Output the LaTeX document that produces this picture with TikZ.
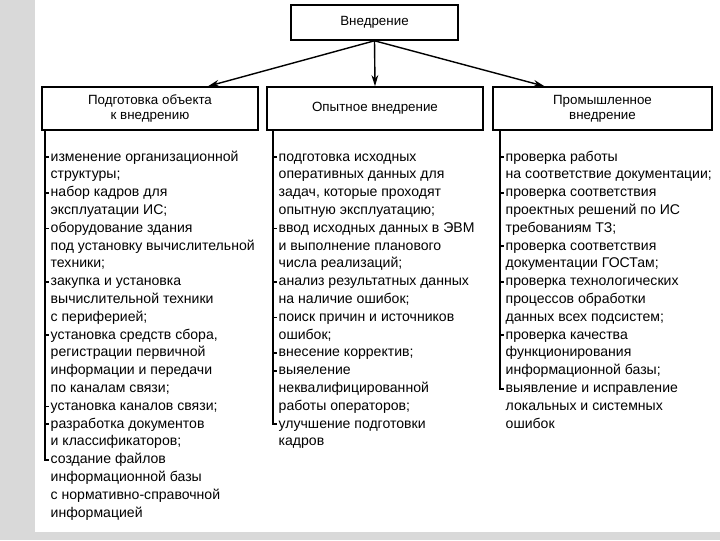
\documentclass[tikz,border=0pt]{standalone}
\usepackage{fontspec}
\setmainfont{Liberation Sans}
\usetikzlibrary{arrows.meta, positioning}
\tikzset{
  hdr/.style={draw=black, line width=1.1pt, fill=white, align=center,
              font=\fontsize{9.5}{10.6}\selectfont, inner sep=2pt},
  ln/.style={anchor=base west, inner sep=1pt, font=\fontsize{10}{11}\selectfont},
  rule/.style={line width=1.2pt},
  link/.style={-{Stealth[length=2.8mm,width=1.7mm]}, line width=1pt},
}
\begin{document}
\begin{tikzpicture}[x=0.025cm, y=-0.025cm]
  \fill[black!15] (0,0) rectangle (720,540);
  \fill[white] (35,0) rectangle (720,532);
  \useasboundingbox (0,0) rectangle (720,540);
  % headers
  \node[hdr, minimum width=4.175cm, minimum height=0.875cm] (impl) at (374.5,22.5) {Внедрение};
  \node[hdr, minimum width=5.4cm, minimum height=1.075cm] (prep) at (150,108.5) {Подготовка объекта\\к внедрению};
  \node[hdr, minimum width=5.4cm, minimum height=1.075cm] (trial) at (375,108.5) {Опытное внедрение};
  \node[hdr, minimum width=5.475cm, minimum height=1.075cm] (ind) at (602.5,108.5) {Промышленное\\внедрение};
  \draw[link] (impl.south) -- (prep.21);
  \draw[link] (impl.south) -- (trial.north);
  \draw[link] (impl.south) -- (ind.159);
  % left column
  \foreach \t [count=\i] in {{изменение организационной},{структуры;},{набор кадров для},
      {эксплуатации ИС;},{оборудование здания},{под установку вычислительной},{техники;},
      {закупка и установка},{вычислительной техники},{с периферией;},{установка средств сбора,},
      {регистрации первичной},{информации и передачи},{по каналам связи;},
      {установка каналов связи;},{разработка документов},{и классификаторов;},
      {создание файлов},{информационной базы},{с нормативно-справочной},{информацией}}
    \node[ln] (p\i) at (49,{161+17.8*(\i-1)}) {\t};
  \coordinate (pl) at (45,0);
  \foreach \i in {1,3,5,8,11,15,16}
    \draw[rule] (p\i.mid west -| pl) -- (p\i.mid west);
  \draw[rule] (prep.south -| pl) |- (p18.mid west);
  % middle column
  \foreach \t [count=\i] in {{подготовка исходных},{оперативных данных для},
      {задач, которые проходят},{опытную эксплуатацию;},{ввод исходных данных в ЭВМ},
      {и выполнение планового},{числа реализаций;},{анализ результатных данных},
      {на наличие ошибок;},{поиск причин и источников},{ошибок;},{внесение корректив;},
      {выяеление},{неквалифицированной},{работы операторов;},{улучшение подготовки},{кадров}}
    \node[ln] (t\i) at (277,{161+17.8*(\i-1)}) {\t};
  \coordinate (tl) at (273,0);
  \foreach \i in {1,5,8,10,12,13}
    \draw[rule] (t\i.mid west -| tl) -- (t\i.mid west);
  \draw[rule] (trial.south -| tl) |- (t16.mid west);
  % right column
  \foreach \t [count=\i] in {{проверка работы},{на соответствие документации;},
      {проверка соответствия},{проектных решений по ИС},{требованиям ТЗ;},
      {проверка соответствия},{документации ГОСТам;},{проверка технологических},
      {процессов обработки},{данных всех подсистем;},{проверка качества},
      {функционирования},{информационной базы;},{выявление и исправление},
      {локальных и системных},{ошибок}}
    \node[ln] (s\i) at (504,{161+17.8*(\i-1)}) {\t};
  \coordinate (sl) at (500,0);
  \foreach \i in {1,3,6,8,11}
    \draw[rule] (s\i.mid west -| sl) -- (s\i.mid west);
  \draw[rule] (ind.south -| sl) |- (s14.mid west);
\end{tikzpicture}
\end{document}
